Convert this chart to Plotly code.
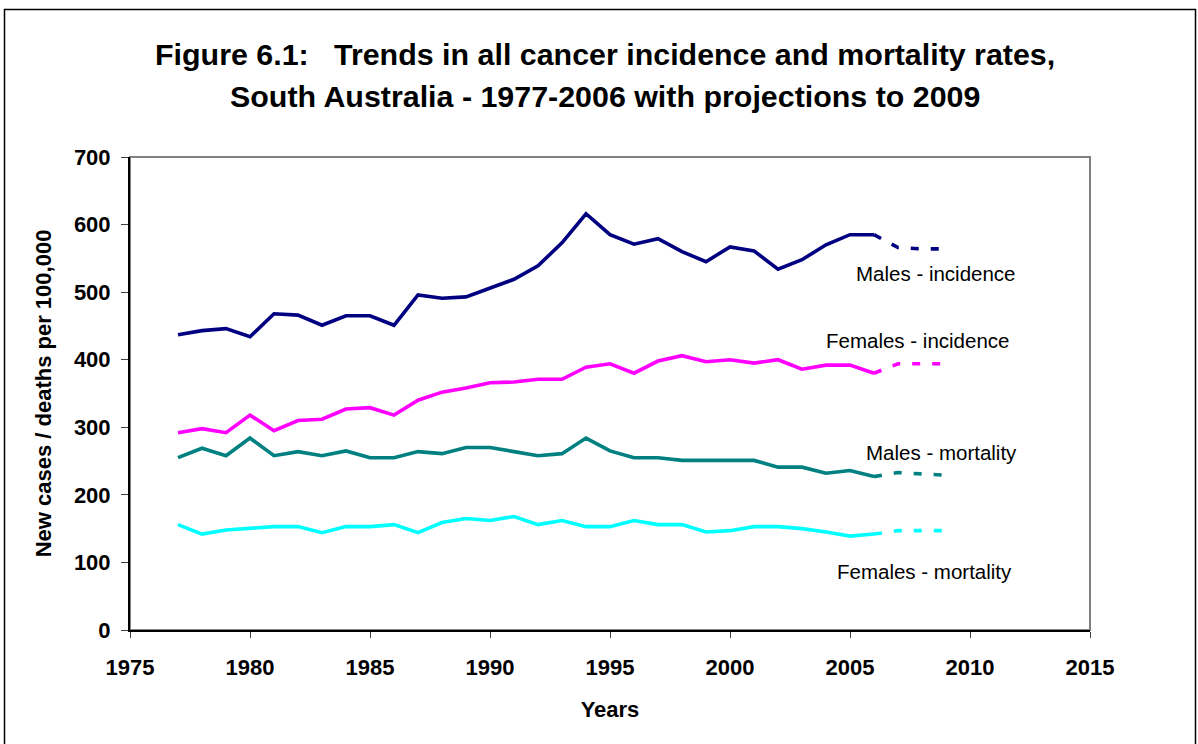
import plotly.graph_objects as go

years = list(range(1977, 2007))
proj_years = [2006, 2007, 2008, 2009]

males_incidence = [437, 443, 446, 434, 468, 466, 451, 465, 465, 451, 496, 491, 493, 506, 519,
                   539, 573, 616, 585, 571, 579, 560, 545, 567, 561, 534, 548, 570, 585, 585]
males_incidence_proj = [585, 566, 564, 564]

females_incidence = [292, 298, 292, 318, 295, 310, 312, 327, 329, 318, 340, 352, 358, 366, 367,
                     371, 371, 389, 394, 380, 398, 406, 397, 400, 395, 400, 386, 392, 392, 380]
females_incidence_proj = [380, 394, 394, 394]

males_mortality = [255, 269, 258, 284, 258, 264, 258, 265, 255, 255, 264, 261, 270, 270, 264,
                   258, 261, 284, 265, 255, 255, 251, 251, 251, 251, 241, 241, 232, 236, 227]
males_mortality_proj = [227, 233, 231, 229]

females_mortality = [156, 142, 148, 150, 153, 153, 144, 153, 153, 156, 144, 159, 165, 162, 168,
                     156, 162, 153, 153, 162, 156, 156, 145, 147, 153, 153, 150, 145, 139, 142]
females_mortality_proj = [142, 147, 147, 147]

series = [
    ("Males - incidence", males_incidence, males_incidence_proj, "#000080", 2008.6, 527),
    ("Females - incidence", females_incidence, females_incidence_proj, "#FF00FF", 2007.8, 428),
    ("Males - mortality", males_mortality, males_mortality_proj, "#008080", 2008.8, 263),
    ("Females - mortality", females_mortality, females_mortality_proj, "#00FFFF", 2008.1, 86),
]

FONT = "Liberation Sans, Arial, sans-serif"
W, H = 1198, 744
L, R, T, B = 130, 1090, 157, 630

fig = go.Figure()
annotations = []
for name, vals, proj, color, lx, ly in series:
    fig.add_trace(go.Scatter(x=years, y=vals, mode="lines", name=name,
                             line=dict(color=color, width=3.6), showlegend=False))
    fig.add_trace(go.Scatter(x=proj_years, y=proj, mode="lines", name=name + " (projection)",
                             line=dict(color=color, width=3.6, dash="8px,12px"), showlegend=False))
    annotations.append(dict(x=lx, y=ly, xref="x", yref="y", text=name, showarrow=False,
                            font=dict(family=FONT, size=20.5, color="#000000"),
                            xanchor="center", yanchor="middle"))

def px_to_paper_x(px):
    return (px - L) / (R - L)

def px_to_paper_y(py):
    return (B - py) / (B - T)

title_lines = ["Figure 6.1:   Trends in all cancer incidence and mortality rates,",
               "South Australia - 1977-2006 with projections to 2009"]
for line, py in zip(title_lines, [54, 96]):
    annotations.append(dict(x=px_to_paper_x(605), y=px_to_paper_y(py), xref="paper", yref="paper",
                            text="<b>%s</b>" % line, showarrow=False,
                            font=dict(family=FONT, size=30.4, color="#000000"),
                            xanchor="center", yanchor="middle"))

shapes = [
    # plot area border
    dict(type="rect", xref="paper", yref="paper", x0=0, y0=0, x1=1, y1=1,
         line=dict(color="#808080", width=2), layer="below"),
    # outer chart frame
    dict(type="rect", xref="paper", yref="paper",
         x0=px_to_paper_x(4.5), x1=px_to_paper_x(1195.5),
         y0=px_to_paper_y(760), y1=px_to_paper_y(9.5),
         line=dict(color="#000000", width=1.5), layer="below"),
]

fig.update_layout(
    width=W, height=H,
    margin=dict(l=L, r=W - R, t=T, b=H - B, pad=0),
    paper_bgcolor="white", plot_bgcolor="white",
    font=dict(family=FONT, color="#000000"),
    annotations=annotations, shapes=shapes,
    xaxis=dict(range=[1975, 2015], dtick=5, tick0=1975, showgrid=False, zeroline=False,
               showline=True, linecolor="#000000", linewidth=2,
               ticks="outside", ticklen=6, tickcolor="#404040", tickwidth=1,
               ticklabelstandoff=11,
               tickfont=dict(family=FONT, size=22, color="#000000", weight="bold"),
               title=dict(text="<b>Years</b>", font=dict(family=FONT, size=22), standoff=22),
               automargin=False),
    yaxis=dict(range=[0, 700], dtick=100, showgrid=False, zeroline=False,
               showline=True, linecolor="#000000", linewidth=2,
               ticks="outside", ticklen=7, tickcolor="#404040", tickwidth=1,
               ticklabelstandoff=6,
               tickfont=dict(family=FONT, size=22, color="#000000", weight="bold"),
               title=dict(text="<b>New cases / deaths per 100,000</b>", font=dict(family=FONT, size=22),
                          standoff=16),
               automargin=False),
)

fig.write_html("out.html", config={"displayModeBar": False},
               post_script="document.body.style.margin='0';")
